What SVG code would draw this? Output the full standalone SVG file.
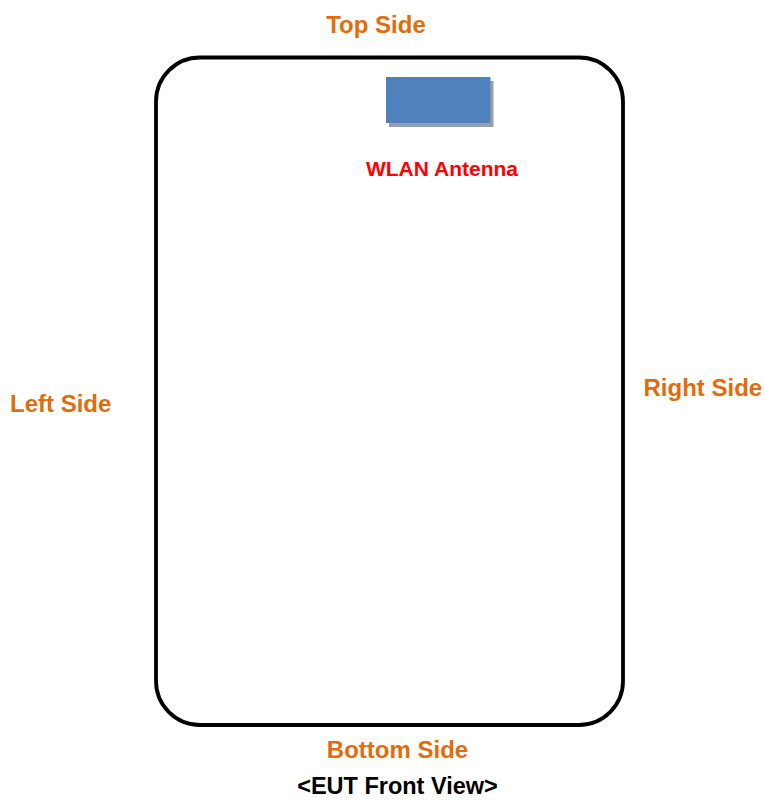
<svg xmlns="http://www.w3.org/2000/svg" width="765" height="800" viewBox="0 0 765 800">
<style>
.side{font-family:"Liberation Sans",Arial,sans-serif;font-weight:bold;font-size:24px;fill:#E36C0A}
.red{font-family:"Liberation Sans",Arial,sans-serif;font-weight:bold;font-size:21px;fill:#FF0000}
.cap{font-family:"Liberation Sans",Arial,sans-serif;font-weight:bold;font-size:23.5px;fill:#000000}
</style>
<rect width="765" height="800" fill="#ffffff"/>
<g id="device">
<rect x="156" y="57.5" width="467" height="667.5" rx="44" ry="44" fill="none" stroke="#000000" stroke-width="3.8"/>
</g>
<g id="antenna">
<rect x="389" y="81" width="104.5" height="46" fill="#95A0B0"/>
<rect x="386" y="77" width="104.5" height="46" fill="#4F81BD"/>
<text class="red" x="442" y="176" text-anchor="middle">WLAN Antenna</text>
</g>
<g id="labels">
<text class="side" x="376" y="32.5" text-anchor="middle">Top Side</text>
<text class="side" x="10" y="411.5">Left Side</text>
<text class="side" x="643.5" y="395.5">Right Side</text>
<text class="side" x="397.5" y="758" text-anchor="middle">Bottom Side</text>
<text class="cap" x="397.5" y="794" text-anchor="middle">&lt;EUT Front View&gt;</text>
</g>
</svg>
